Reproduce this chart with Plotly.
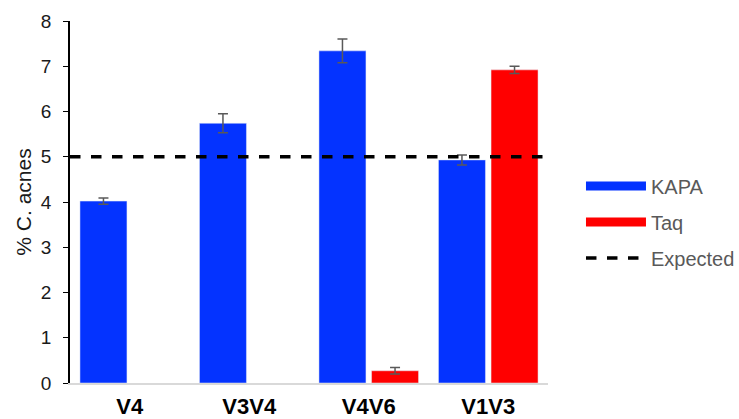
import plotly.graph_objects as go

categories = ["V4", "V3V4", "V4V6", "V1V3"]
kapa_values = [4.02, 5.74, 7.34, 4.93]
kapa_errors = [0.07, 0.21, 0.26, 0.11]
taq_values = [None, None, 0.27, 6.92]
taq_errors = [0, 0, 0.07, 0.08]
expected_value = 5
y_ticks = [0, 1, 2, 3, 4, 5, 6, 7, 8]

BLUE = "#0433FF"
RED = "#FF0000"
ERR = "#595959"
FONT = "Arial, Liberation Sans, sans-serif"

fig = go.Figure()
fig.add_trace(go.Bar(
    x=categories, y=kapa_values, name="KAPA", marker_color=BLUE,
    error_y=dict(type="data", array=kapa_errors, color=ERR, thickness=1.5, width=5),
    showlegend=False,
))
fig.add_trace(go.Bar(
    x=categories, y=taq_values, name="Taq", marker_color=RED,
    error_y=dict(type="data", array=taq_errors, color=ERR, thickness=1.5, width=5),
    showlegend=False,
))
fig.add_trace(go.Scatter(
    x=[0, 1], y=[expected_value, expected_value], xaxis="x2", mode="lines",
    line=dict(color="black", width=3.5, dash="dash"), showlegend=False, hoverinfo="skip",
))
fig.add_trace(go.Scatter(x=[None], y=[None], xaxis="x2", mode="lines", name="KAPA",
                         line=dict(color=BLUE, width=9), legendgroup="a"))
fig.add_trace(go.Scatter(x=[None], y=[None], xaxis="x2", mode="lines", name="Taq",
                         line=dict(color=RED, width=9), legendgroup="b"))
fig.add_trace(go.Scatter(x=[None], y=[None], xaxis="x2", mode="lines", name="Expected",
                         line=dict(color="black", width=3.5, dash="dash"), legendgroup="c"))

fig.update_layout(
    width=739, height=419,
    margin=dict(l=70, r=191, t=21, b=36, autoexpand=False),
    paper_bgcolor="white", plot_bgcolor="white",
    font=dict(family=FONT, size=19, color="#1a1a1a"),
    barmode="group", bargap=0.12, bargroupgap=0.106,
    xaxis=dict(
        type="category", categoryorder="array", categoryarray=categories,
        range=[-0.5, 3.5], showline=True, linecolor="#d9d9d9", linewidth=1.5,
        ticks="", showgrid=False, automargin=False,
        tickfont=dict(family=FONT, size=22, color="#000000", weight="bold"),
        ticklabelstandoff=3,
    ),
    xaxis2=dict(overlaying="x", range=[0, 1], visible=False, fixedrange=True),
    yaxis=dict(
        range=[0, 8], tickvals=y_ticks, showline=True, linecolor="#000000", linewidth=1.5,
        ticks="outside", ticklen=5, tickcolor="#000000", showgrid=False, zeroline=False,
        automargin=False, ticklabelstandoff=8,
        tickfont=dict(size=19, color="#1a1a1a"),
        title=dict(text="% C. acnes", font=dict(size=21, color="#1a1a1a"), standoff=4),
    ),
    legend=dict(
        x=1.069, y=0.598, xanchor="left", yanchor="top",
        font=dict(size=20, color="#595959"), tracegroupgap=7,
        bgcolor="rgba(0,0,0,0)", itemwidth=60,
    ),
)

fig.write_html(
    "out.html",
    config={"displayModeBar": False},
    post_script="document.body.style.margin='0';document.body.style.overflow='hidden';",
)
